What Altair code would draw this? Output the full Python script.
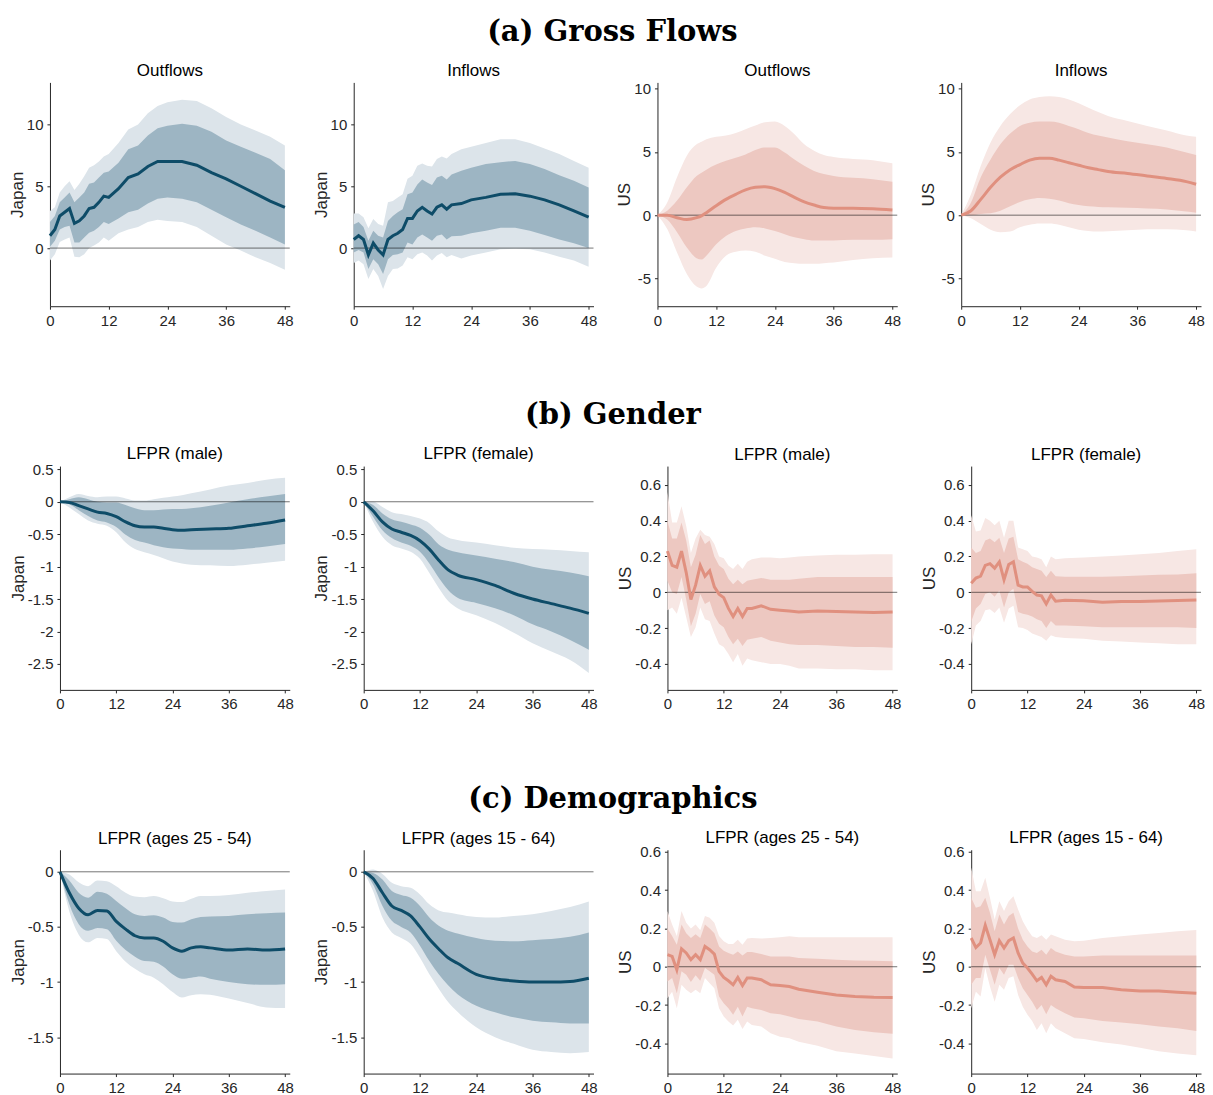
import altair as alt
import pandas as pd

# ---------------- data ----------------
# Panel 1: Japan, gross outflows
p1_m = [0,1,2,3,4,5,6,7,8,9,10,11,12,14,16,18,20,22,24,27,30,33,36,39,42,45,48]
p1_line = [1.0,1.5,2.6,2.9,3.2,2.0,2.2,2.6,3.2,3.3,3.7,4.2,4.1,4.8,5.7,6.0,6.6,7.0,7.0,7.0,6.7,6.1,5.6,5.0,4.4,3.8,3.3]
p1_hi1 = [2.1,2.6,3.7,4.1,4.5,3.7,4.1,4.5,5.2,5.3,5.7,6.1,6.2,6.9,8.0,8.3,9.1,9.7,9.9,10.05,9.9,9.4,8.7,8.2,7.7,7.2,6.3]
p1_lo1 = [0.1,0.6,1.5,1.7,1.8,0.45,0.45,0.85,1.25,1.4,1.7,2.1,1.95,2.4,2.9,3.1,3.6,4.0,4.1,4.0,3.7,3.1,2.5,1.9,1.4,0.85,0.3]
p1_hi2 = [3.0,3.3,4.5,5.0,5.4,4.7,5.2,5.8,6.5,6.7,7.0,7.4,7.6,8.5,9.6,10.0,10.9,11.5,11.8,12.0,11.9,11.3,10.6,10.0,9.5,9.0,8.3]
p1_lo2 = [-1.0,-0.5,0.5,0.7,0.85,-0.7,-0.75,-0.5,0.0,0.2,0.45,0.85,0.6,1.2,1.5,1.7,2.1,2.3,2.2,2.1,1.7,1.0,0.3,-0.2,-0.75,-1.2,-1.75]

# Panel 2: Japan, gross inflows
p2_m = [0,1,2,3,4,5,6,7,8,9,10,11,12,13,14,15,16,17,18,19,20,22,24,27,30,33,36,39,42,45,48]
p2_line = [0.7,1.0,0.7,-0.55,0.4,-0.15,-0.55,0.7,1.0,1.2,1.5,2.4,2.4,3.0,3.3,3.0,2.75,3.3,3.5,3.15,3.5,3.6,3.9,4.1,4.35,4.4,4.2,3.9,3.5,3.0,2.5]
p2_hi1 = [1.9,2.1,1.7,0.6,1.4,1.0,0.85,2.2,2.6,2.9,3.15,4.35,4.5,5.15,5.55,5.3,5.1,5.7,5.85,5.55,5.95,6.25,6.5,6.8,6.95,7.05,6.8,6.4,5.9,5.45,4.9]
p2_lo1 = [-0.35,-0.15,-0.35,-1.7,-0.9,-1.3,-2.1,-0.9,-0.55,-0.5,-0.35,0.45,0.3,0.85,1.1,0.85,0.6,1.0,1.1,0.7,0.95,1.0,1.2,1.4,1.65,1.65,1.4,1.05,0.7,0.4,0.0]
p2_hi2 = [2.8,2.8,2.5,1.6,2.35,1.95,1.8,3.7,3.8,4.1,4.35,5.6,5.85,6.65,6.85,6.65,6.6,7.2,7.4,7.25,7.6,8.0,8.2,8.5,8.8,8.8,8.5,8.05,7.6,7.05,6.5]
p2_lo2 = [-1.2,-1.0,-1.3,-2.5,-1.7,-2.25,-3.3,-2.25,-1.7,-1.65,-1.4,-0.75,-0.9,-0.5,-0.35,-0.6,-1.0,-0.6,-0.4,-0.75,-0.55,-0.85,-0.6,-0.35,-0.1,-0.05,-0.1,-0.35,-0.7,-1.0,-1.5]

# Panel 3: US, gross outflows
p3_m = [0,2,4,6,8,9,10,12,14,16,18,20,22,24,26,28,30,32,34,36,40,44,48]
p3_line = [0,0,-0.2,-0.35,-0.2,-0.05,0.2,0.75,1.25,1.65,2.0,2.2,2.25,2.1,1.8,1.4,1.05,0.8,0.6,0.55,0.55,0.5,0.4]
p3_hi1 = [0,0.35,1.15,2.2,3.1,3.35,3.6,4.0,4.3,4.55,4.8,5.15,5.35,5.35,4.95,4.4,3.9,3.5,3.25,3.1,2.95,2.85,2.65]
p3_lo1 = [0,-0.35,-1.35,-2.55,-3.4,-3.5,-3.2,-2.3,-1.65,-1.25,-1.05,-0.95,-1.05,-1.25,-1.5,-1.75,-1.9,-2.0,-2.0,-2.0,-1.95,-1.95,-1.9]
p3_hi2 = [0,1.0,3.0,4.7,5.6,5.8,6.0,6.2,6.3,6.5,6.8,7.1,7.35,7.4,7.05,6.4,5.6,5.1,4.75,4.6,4.45,4.35,4.1]
p3_lo2 = [0,-1.1,-2.95,-4.65,-5.65,-5.8,-5.6,-4.15,-3.2,-2.9,-2.8,-2.9,-3.2,-3.45,-3.7,-3.8,-3.85,-3.85,-3.8,-3.75,-3.55,-3.4,-3.35]

# Panel 4: US, gross inflows
p4_m = [0,2,4,6,8,10,12,14,16,18,20,22,24,26,28,30,34,38,42,46,48]
p4_line = [0,0.35,1.25,2.2,3.0,3.6,4.0,4.35,4.5,4.5,4.35,4.15,3.95,3.75,3.6,3.45,3.3,3.1,2.9,2.65,2.45]
p4_hi1 = [0,1.0,3.0,4.4,5.6,6.45,7.05,7.3,7.4,7.4,7.3,7.05,6.8,6.5,6.3,6.15,5.85,5.6,5.35,4.95,4.75]
p4_lo1 = [0,0,0.1,0.15,0.35,0.7,1.05,1.25,1.35,1.3,1.15,0.95,0.8,0.7,0.65,0.62,0.58,0.52,0.45,0.28,0.2]
p4_hi2 = [0,1.65,3.9,5.75,7.05,8.0,8.7,9.15,9.35,9.4,9.35,9.15,8.85,8.5,8.15,7.85,7.45,7.05,6.7,6.3,6.2]
p4_lo2 = [0,-0.25,-0.7,-1.15,-1.35,-1.3,-0.95,-0.75,-0.65,-0.65,-0.75,-0.95,-1.15,-1.25,-1.3,-1.28,-1.2,-1.12,-1.12,-1.2,-1.3]

# Panel 5: Japan, LFPR (male)
p5_m = [0,2,4,6,8,10,12,14,16,18,20,22,24,26,28,32,36,40,44,48]
p5_line = [0,-0.01,-0.06,-0.11,-0.16,-0.18,-0.23,-0.31,-0.37,-0.39,-0.39,-0.41,-0.43,-0.44,-0.43,-0.42,-0.41,-0.37,-0.33,-0.28]
p5_hi1 = [0,0.04,0.07,0.04,0.0,-0.01,-0.01,-0.05,-0.1,-0.13,-0.13,-0.12,-0.11,-0.11,-0.1,-0.06,-0.01,0.04,0.08,0.12]
p5_lo1 = [0,-0.04,-0.13,-0.22,-0.29,-0.32,-0.39,-0.51,-0.59,-0.63,-0.67,-0.7,-0.72,-0.73,-0.74,-0.74,-0.74,-0.72,-0.69,-0.65]
p5_hi2 = [0,0.07,0.12,0.09,0.07,0.08,0.08,0.05,0.02,0.02,0.04,0.06,0.08,0.1,0.13,0.19,0.25,0.29,0.34,0.37]
p5_lo2 = [0,-0.09,-0.19,-0.29,-0.34,-0.37,-0.47,-0.63,-0.73,-0.78,-0.82,-0.87,-0.92,-0.95,-0.97,-0.98,-0.99,-0.97,-0.94,-0.91]

# Panel 6: Japan, LFPR (female)
p6_m = [0,2,4,6,8,10,12,14,16,18,20,24,28,32,36,40,44,48]
p6_line = [0,-0.14,-0.31,-0.42,-0.47,-0.52,-0.6,-0.73,-0.9,-1.05,-1.13,-1.2,-1.29,-1.41,-1.5,-1.57,-1.64,-1.72]
p6_hi1 = [0,-0.05,-0.18,-0.27,-0.31,-0.35,-0.4,-0.51,-0.66,-0.74,-0.78,-0.83,-0.88,-0.93,-1.0,-1.05,-1.09,-1.15]
p6_lo1 = [0,-0.23,-0.44,-0.56,-0.63,-0.68,-0.77,-0.95,-1.17,-1.36,-1.48,-1.56,-1.64,-1.75,-1.89,-2.0,-2.13,-2.28]
p6_hi2 = [0,0,-0.08,-0.16,-0.19,-0.22,-0.26,-0.33,-0.46,-0.55,-0.59,-0.63,-0.67,-0.71,-0.73,-0.74,-0.76,-0.78]
p6_lo2 = [0,-0.31,-0.54,-0.67,-0.72,-0.77,-0.88,-1.1,-1.33,-1.53,-1.64,-1.75,-1.87,-2.02,-2.18,-2.31,-2.44,-2.64]

# Panel 7: US, LFPR (male)
p7_m = [0,1,2,3,4,5,6,7,8,9,10,11,12,13,14,15,16,17,18,20,22,24,26,28,32,36,40,44,48]
p7_line = [0.23,0.15,0.14,0.23,0.11,-0.04,0.04,0.15,0.09,0.12,0.03,-0.01,-0.03,-0.09,-0.135,-0.09,-0.135,-0.09,-0.09,
           -0.075,-0.095,-0.1,-0.105,-0.11,-0.105,-0.107,-0.11,-0.113,-0.11]
p7_hi1 = [0.4,0.3,0.3,0.39,0.29,0.14,0.21,0.32,0.27,0.29,0.2,0.15,0.13,0.075,0.045,0.07,0.045,0.065,0.07,
          0.08,0.07,0.07,0.07,0.075,0.085,0.085,0.085,0.085,0.085]
p7_lo1 = [0.065,0.0,-0.01,0.085,-0.04,-0.19,-0.12,-0.01,-0.065,-0.05,-0.13,-0.175,-0.195,-0.25,-0.29,-0.26,-0.3,-0.265,-0.26,
          -0.25,-0.27,-0.28,-0.29,-0.295,-0.295,-0.3,-0.305,-0.305,-0.31]
p7_hi2 = [0.56,0.39,0.39,0.48,0.37,0.22,0.3,0.35,0.32,0.31,0.27,0.2,0.19,0.15,0.13,0.16,0.13,0.17,0.185,
          0.195,0.195,0.19,0.195,0.2,0.205,0.21,0.21,0.213,0.213]
p7_lo2 = [-0.1,-0.085,-0.12,-0.03,-0.14,-0.25,-0.195,-0.085,-0.15,-0.16,-0.23,-0.29,-0.305,-0.345,-0.39,-0.345,-0.41,-0.37,-0.38,
          -0.39,-0.4,-0.4,-0.41,-0.425,-0.425,-0.43,-0.43,-0.435,-0.435]

# Panel 8: US, LFPR (female)
p8_m = [0,1,2,3,4,5,6,7,8,9,10,11,12,13,14,15,16,17,18,20,24,28,32,36,40,44,48]
p8_line = [0.05,0.08,0.09,0.15,0.16,0.135,0.17,0.07,0.155,0.17,0.04,0.03,0.03,0.005,-0.015,-0.02,-0.065,-0.015,-0.05,
           -0.045,-0.047,-0.055,-0.052,-0.052,-0.048,-0.046,-0.043]
p8_hi1 = [0.25,0.22,0.23,0.29,0.3,0.28,0.305,0.22,0.3,0.31,0.185,0.17,0.16,0.14,0.13,0.12,0.085,0.12,0.09,
          0.087,0.087,0.087,0.089,0.094,0.098,0.1,0.107]
p8_lo1 = [-0.165,-0.09,-0.065,-0.01,0.0,-0.025,0.01,-0.085,0.0,0.02,-0.11,-0.12,-0.125,-0.135,-0.15,-0.16,-0.2,-0.16,-0.185,
          -0.185,-0.19,-0.195,-0.195,-0.195,-0.195,-0.195,-0.2]
p8_hi2 = [0.43,0.34,0.345,0.415,0.4,0.375,0.4,0.305,0.4,0.4,0.25,0.24,0.23,0.2,0.195,0.185,0.14,0.2,0.185,
          0.19,0.195,0.2,0.205,0.213,0.22,0.23,0.24]
p8_lo2 = [-0.29,-0.185,-0.16,-0.1,-0.095,-0.115,-0.085,-0.17,-0.09,-0.075,-0.195,-0.2,-0.21,-0.23,-0.24,-0.25,-0.27,-0.24,-0.25,
          -0.255,-0.26,-0.27,-0.275,-0.28,-0.285,-0.29,-0.29]

# Panel 9: Japan, LFPR (ages 25 - 54)
p9_m = [0,2,4,6,8,10,12,14,16,18,20,22,24,26,28,30,32,36,40,44,48]
p9_line = [0,-0.19,-0.33,-0.39,-0.35,-0.355,-0.45,-0.52,-0.58,-0.6,-0.6,-0.63,-0.69,-0.72,-0.69,-0.68,-0.69,-0.71,-0.7,-0.71,-0.7]
p9_hi1 = [0,-0.08,-0.19,-0.235,-0.18,-0.2,-0.265,-0.33,-0.385,-0.4,-0.395,-0.415,-0.455,-0.46,-0.43,-0.41,-0.405,-0.4,-0.385,-0.375,-0.37]
p9_lo1 = [0,-0.295,-0.475,-0.535,-0.51,-0.52,-0.625,-0.71,-0.77,-0.81,-0.815,-0.86,-0.93,-0.97,-0.96,-0.95,-0.97,-1.0,-1.02,-1.025,-1.02]
p9_hi2 = [0,-0.025,-0.095,-0.13,-0.08,-0.085,-0.13,-0.19,-0.225,-0.23,-0.22,-0.24,-0.27,-0.275,-0.245,-0.22,-0.22,-0.21,-0.19,-0.175,-0.16]
p9_lo2 = [0,-0.36,-0.57,-0.64,-0.6,-0.61,-0.72,-0.815,-0.88,-0.93,-0.96,-1.02,-1.09,-1.14,-1.12,-1.11,-1.115,-1.15,-1.19,-1.23,-1.235]

# Panel 10: Japan, LFPR (ages 15 - 64)
p10_m = [0,2,4,6,8,10,12,14,16,18,20,24,28,32,36,40,44,48]
p10_line = [0,-0.06,-0.19,-0.31,-0.35,-0.4,-0.5,-0.61,-0.7,-0.78,-0.83,-0.93,-0.97,-0.99,-1.0,-1.0,-0.995,-0.965]
p10_hi1 = [0,-0.01,-0.07,-0.175,-0.21,-0.235,-0.31,-0.415,-0.49,-0.535,-0.56,-0.6,-0.625,-0.63,-0.62,-0.61,-0.59,-0.55]
p10_lo1 = [0,-0.115,-0.31,-0.445,-0.5,-0.55,-0.67,-0.81,-0.93,-1.03,-1.11,-1.215,-1.275,-1.32,-1.35,-1.365,-1.375,-1.375]
p10_hi2 = [0,0.02,-0.02,-0.1,-0.13,-0.145,-0.205,-0.295,-0.35,-0.37,-0.385,-0.41,-0.415,-0.4,-0.385,-0.355,-0.32,-0.27]
p10_lo2 = [0,-0.175,-0.415,-0.55,-0.6,-0.655,-0.78,-0.93,-1.06,-1.18,-1.27,-1.41,-1.5,-1.56,-1.615,-1.635,-1.645,-1.635]

# Panel 11: US, LFPR (ages 25 - 54)
p11_m = [0,1,2,3,4,5,6,7,8,9,10,11,12,13,14,15,16,17,18,20,22,24,26,28,32,36,40,44,48]
p11_line = [0.063,0.054,-0.016,0.094,0.072,0.037,0.063,0.037,0.106,0.089,0.066,-0.024,-0.056,-0.073,-0.094,-0.056,-0.098,-0.059,-0.059,
            -0.068,-0.094,-0.098,-0.103,-0.117,-0.133,-0.147,-0.155,-0.159,-0.16]
p11_hi1 = [0.2,0.16,0.115,0.22,0.175,0.15,0.17,0.15,0.22,0.2,0.175,0.106,0.084,0.072,0.063,0.08,0.058,0.077,0.077,
           0.066,0.054,0.054,0.054,0.045,0.042,0.037,0.033,0.031,0.028]
p11_lo1 = [-0.077,-0.059,-0.138,-0.024,-0.042,-0.08,-0.045,-0.073,-0.007,-0.024,-0.042,-0.155,-0.19,-0.216,-0.25,-0.208,-0.26,-0.208,-0.216,
           -0.225,-0.243,-0.248,-0.26,-0.272,-0.286,-0.312,-0.33,-0.342,-0.35]
p11_hi2 = [0.29,0.22,0.16,0.29,0.23,0.2,0.22,0.19,0.264,0.255,0.23,0.16,0.133,0.119,0.119,0.141,0.115,0.147,0.15,
           0.147,0.15,0.154,0.159,0.154,0.154,0.154,0.154,0.154,0.154]
p11_lo2 = [-0.164,-0.13,-0.216,-0.094,-0.12,-0.138,-0.12,-0.138,-0.059,-0.086,-0.112,-0.216,-0.26,-0.286,-0.307,-0.277,-0.325,-0.286,-0.304,
           -0.312,-0.347,-0.365,-0.373,-0.391,-0.412,-0.44,-0.452,-0.466,-0.478]

# Panel 12: US, LFPR (ages 15 - 64)
p12_m = [0,1,2,3,4,5,6,7,8,9,10,11,12,13,14,15,16,17,18,20,22,24,28,32,36,40,44,48]
p12_line = [0.15,0.1,0.124,0.216,0.141,0.063,0.136,0.098,0.136,0.15,0.072,0.019,-0.007,-0.038,-0.073,-0.056,-0.094,-0.05,-0.068,
            -0.077,-0.106,-0.108,-0.108,-0.12,-0.126,-0.126,-0.133,-0.138]
p12_hi1 = [0.36,0.307,0.316,0.36,0.281,0.185,0.272,0.22,0.264,0.281,0.2,0.141,0.106,0.08,0.072,0.089,0.063,0.098,0.08,
           0.063,0.054,0.054,0.058,0.058,0.058,0.058,0.058,0.058]
p12_lo1 = [-0.094,-0.059,-0.059,0.063,-0.016,-0.094,-0.007,-0.042,0.01,0.01,-0.059,-0.112,-0.147,-0.182,-0.225,-0.2,-0.248,-0.2,-0.216,
           -0.243,-0.265,-0.269,-0.283,-0.291,-0.3,-0.312,-0.321,-0.335]
p12_hi2 = [0.517,0.394,0.394,0.464,0.36,0.246,0.342,0.29,0.342,0.368,0.298,0.237,0.194,0.159,0.15,0.164,0.141,0.168,0.159,
           0.141,0.133,0.136,0.15,0.159,0.168,0.176,0.185,0.192]
p12_lo2 = [-0.216,-0.13,-0.155,-0.007,-0.103,-0.182,-0.094,-0.12,-0.059,-0.05,-0.147,-0.208,-0.25,-0.283,-0.33,-0.295,-0.347,-0.295,-0.321,
           -0.347,-0.373,-0.377,-0.394,-0.405,-0.422,-0.44,-0.452,-0.461]

x_ticks = [0, 12, 24, 36, 48]
x_domain = [0, 49]

# ---------------- styling ----------------
JP = {"line": "#0E4C68", "inner": "#9DB5C3", "outer": "#DCE4EA"}
US = {"line": "#E0907F", "inner": "#EDC8C1", "outer": "#F7E7E4"}
SANS = "Liberation Sans"
AXC = "#262626"
H = 224          # plot height
W = 240          # panel (group) width
INSET = 10       # rows (b) and (c): plot area starts this far right of the group edge
LABEL_HALF = 6.3 # half height of a tick label, used to keep panel titles level


def panel(m, line, lo1, hi1, lo2, hi2, title, ylab, ydom, yticks, pal, smooth, inset):
    df = pd.DataFrame({"month": m, "line": line, "lo1": lo1, "hi1": hi1, "lo2": lo2, "hi2": hi2})
    interp = "monotone" if smooth else "linear"
    xs = alt.Scale(domain=x_domain, nice=False, zero=False, range=[inset, W]) if inset else \
        alt.Scale(domain=x_domain, nice=False, zero=False)
    xenc = alt.X("month:Q", scale=xs,
                 axis=alt.Axis(values=x_ticks, title=None, labelPadding=4, labelFlush=False))
    yscale = alt.Scale(domain=ydom, nice=False, zero=False)
    yaxis = alt.Axis(values=yticks, title=ylab, format="~r", labelOverlap=False, labelSeparation=0,
                     labelExpr="replace(datum.label, '\u2212', '-')",
                     labelPadding=4, titlePadding=0, offset=-inset)
    base = alt.Chart(df)
    outer = base.mark_area(color=pal["outer"], interpolate=interp).encode(
        x=xenc, y=alt.Y("lo2:Q", scale=yscale, axis=yaxis), y2="hi2:Q")
    inner = base.mark_area(color=pal["inner"], interpolate=interp).encode(
        x="month:Q", y=alt.Y("lo1:Q", axis=yaxis), y2="hi1:Q")
    zero = alt.Chart(pd.DataFrame({"zero": [0]})).mark_rule(
        color="#000000", opacity=0.55, strokeWidth=1).encode(
        y=alt.Y("zero:Q", axis=yaxis), x=alt.datum(x_domain[0]), x2=alt.datum(x_domain[1]))
    ln = base.mark_line(color=pal["line"], strokeWidth=3, interpolate=interp).encode(
        x="month:Q", y=alt.Y("line:Q", axis=yaxis))
    # how far the top tick label pokes above the plot (pushes the title up)
    gap = (ydom[1] - max(yticks)) * H / (ydom[1] - ydom[0])
    push = max(0.0, LABEL_HALF - gap)
    return alt.layer(outer, inner, zero, ln).properties(
        width=W, height=H,
        title=alt.Title(title, font=SANS, fontSize=17, fontWeight="normal", color="#000000",
                        anchor="middle", frame="group", offset=2, dy=push, dx=inset / 2))


def row(charts, label):
    return alt.hconcat(*charts, spacing=64, bounds="flush",
                       title=alt.Title(label, font="DejaVu Serif", fontSize=29, fontWeight="bold",
                                       color="#000000", anchor="middle", frame="bounds",
                                       offset=15, dx=6))


jp_gross = [-4.7, 13.4]
us_gross = [-7.2, 10.5]
jp_gender = [-2.9, 0.55]
us_gender = [-0.545, 0.705]
jp_demo = [-1.83, 0.2]
us_demo = [-0.557, 0.61]

t_jp_gross = [0, 5, 10]
t_us_gross = [-5, 0, 5, 10]
t_jp_gender = [-2.5, -2, -1.5, -1, -0.5, 0, 0.5]
t_us_lfpr = [-0.4, -0.2, 0, 0.2, 0.4, 0.6]
t_jp_demo = [-1.5, -1, -0.5, 0]

row_a = row([
    panel(p1_m, p1_line, p1_lo1, p1_hi1, p1_lo2, p1_hi2, "Outflows", "Japan", jp_gross, t_jp_gross, JP, False, 0),
    panel(p2_m, p2_line, p2_lo1, p2_hi1, p2_lo2, p2_hi2, "Inflows", "Japan", jp_gross, t_jp_gross, JP, False, 0),
    panel(p3_m, p3_line, p3_lo1, p3_hi1, p3_lo2, p3_hi2, "Outflows", "US", us_gross, t_us_gross, US, True, 0),
    panel(p4_m, p4_line, p4_lo1, p4_hi1, p4_lo2, p4_hi2, "Inflows", "US", us_gross, t_us_gross, US, True, 0),
], "(a) Gross Flows")

row_b = row([
    panel(p5_m, p5_line, p5_lo1, p5_hi1, p5_lo2, p5_hi2, "LFPR (male)", "Japan", jp_gender, t_jp_gender, JP, True, INSET),
    panel(p6_m, p6_line, p6_lo1, p6_hi1, p6_lo2, p6_hi2, "LFPR (female)", "Japan", jp_gender, t_jp_gender, JP, True, INSET),
    panel(p7_m, p7_line, p7_lo1, p7_hi1, p7_lo2, p7_hi2, "LFPR (male)", "US", us_gender, t_us_lfpr, US, False, INSET),
    panel(p8_m, p8_line, p8_lo1, p8_hi1, p8_lo2, p8_hi2, "LFPR (female)", "US", us_gender, t_us_lfpr, US, False, INSET),
], "(b) Gender")

row_c = row([
    panel(p9_m, p9_line, p9_lo1, p9_hi1, p9_lo2, p9_hi2, "LFPR (ages 25 - 54)", "Japan", jp_demo, t_jp_demo, JP, True, INSET),
    panel(p10_m, p10_line, p10_lo1, p10_hi1, p10_lo2, p10_hi2, "LFPR (ages 15 - 64)", "Japan", jp_demo, t_jp_demo, JP, True, INSET),
    panel(p11_m, p11_line, p11_lo1, p11_hi1, p11_lo2, p11_hi2, "LFPR (ages 25 - 54)", "US", us_demo, t_us_lfpr, US, False, INSET),
    panel(p12_m, p12_line, p12_lo1, p12_hi1, p12_lo2, p12_hi2, "LFPR (ages 15 - 64)", "US", us_demo, t_us_lfpr, US, False, INSET),
], "(c) Demographics")

chart = alt.vconcat(row_a, row_b, row_c, spacing=73).properties(
    padding={"left": 0, "top": 9, "right": 0, "bottom": 0}
).configure_view(stroke=None).configure_axis(
    grid=False, domainColor=AXC, tickColor=AXC, labelColor=AXC, titleColor=AXC,
    labelFont=SANS, labelFontSize=15, titleFont=SANS, titleFontSize=17, titleFontWeight="normal",
    tickSize=3, domainWidth=1, tickWidth=1, labelOverlap=False
).configure_axisY(labelOverlap=False)

chart.save("out.html", embed_options={"renderer": "svg", "actions": False})
